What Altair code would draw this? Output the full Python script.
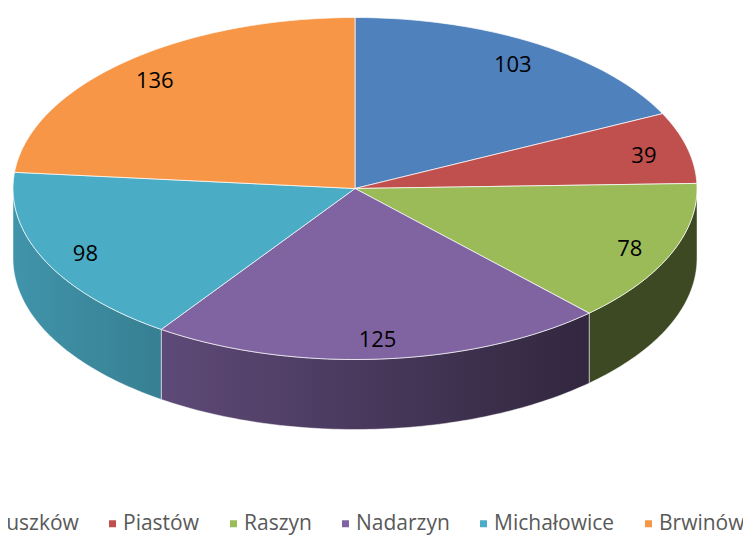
import math
import altair as alt
import pandas as pd

# ---- data ----
names = ["Pruszków", "Piastów", "Raszyn", "Nadarzyn", "Michałowice", "Brwinów"]
values = [103, 39, 78, 125, 98, 136]
colors = ["#4F81BD", "#C0504D", "#9BBB59", "#8064A2", "#4BACC6", "#F79646"]

# ---- layout (3D pie geometry, in pixels) ----
RX, RY, DEPTH = 342, 171, 70
CX_PAGE, CY_PAGE = 355, 188.5
W, H = 735, 527
LABEL_R = 0.87


def ell(a, drop=0.0):
    r = math.radians(a)
    return [round(RX * math.sin(r), 2), round(RY * math.cos(r) - drop, 2)]


def arc(a0, a1, drop=0.0):
    n = max(2, int(math.ceil(abs(a1 - a0))) + 1)
    return [ell(a0 + (a1 - a0) * k / (n - 1), drop) for k in range(n)]


def shade(hexc, px):
    f = min(0.9, max(0.39, 0.86 - 0.00083 * (px - 14)))
    r, g, b = (int(hexc[i:i + 2], 16) for i in (1, 3, 5))
    return "#%02x%02x%02x" % (round(r * f), round(g * f), round(b * f))


total = sum(values)
tops, walls, labels = [], [], []
start = 0.0
for name, v, c in zip(names, values, colors):
    sweep = 360.0 * v / total
    a0, a1 = start, start + sweep
    ring = [[0, 0]] + arc(a0, a1) + [[0, 0]]
    tops.append({"type": "Feature", "properties": {"name": name},
                 "geometry": {"type": "Polygon", "coordinates": [ring]}})
    w0, w1 = max(a0, 90.0), min(a1, 270.0)
    if w1 > w0:
        top = arc(w0, w1)
        bot = arc(w1, w0, DEPTH)
        wring = top + bot + [top[0]]
        walls.append((name, c, wring))
    mid = math.radians((a0 + a1) / 2)
    labels.append({"name": name, "value": v,
                   "lon": LABEL_R * RX * math.sin(mid),
                   "lat": LABEL_R * RY * math.cos(mid) - 3})
    start = a1

proj = dict(type="identity", reflectY=True, scale=1,
            translate=[CX_PAGE - 8, CY_PAGE - 8])

layers = []
for name, c, wring in walls:
    xs = [p[0] for p in wring]
    xmin, xmax = min(xs), max(xs)
    stops = []
    for k in range(9):
        off = k / 8
        px = CX_PAGE + xmin + (xmax - xmin) * off
        stops.append(alt.GradientStop(color=shade(c, px), offset=off))
    grad = alt.LinearGradient(gradient="linear", stops=stops, x1=0, x2=1, y1=0, y2=0)
    feat = {"type": "Feature", "properties": {"name": name},
            "geometry": {"type": "Polygon", "coordinates": [wring]}}
    layers.append(
        alt.Chart(alt.Data(values=[feat]))
        .mark_geoshape(fill=grad, stroke="white", strokeWidth=0.8, strokeOpacity=0.6)
        .project(**proj)
    )

top_chart = (
    alt.Chart(alt.Data(values=tops))
    .mark_geoshape(stroke="white", strokeWidth=1, strokeOpacity=0.7)
    .encode(
        color=alt.Color(
            "properties.name:N",
            scale=alt.Scale(domain=names, range=colors),
            legend=alt.Legend(
                orient="none", legendX=-44, legendY=505, direction="horizontal",
                symbolType="square", symbolSize=49, symbolStrokeWidth=0,
                labelFont="Open Sans", labelFontSize=21, labelColor="#595959",
                labelOffset=0, columnPadding=23, title=None,
            ),
        )
    )
    .project(**proj)
)

label_chart = (
    alt.Chart(pd.DataFrame(labels))
    .mark_text(font="Open Sans", fontSize=22, color="black")
    .encode(longitude="lon:Q", latitude="lat:Q", text="value:Q")
    .project(**proj)
)

chart = (
    alt.layer(*layers, top_chart, label_chart)
    .properties(width=W, height=H, padding=0, autosize="none")
    .configure_view(stroke=None)
)

chart.save("out.html", embed_options={"renderer": "svg", "actions": False})
